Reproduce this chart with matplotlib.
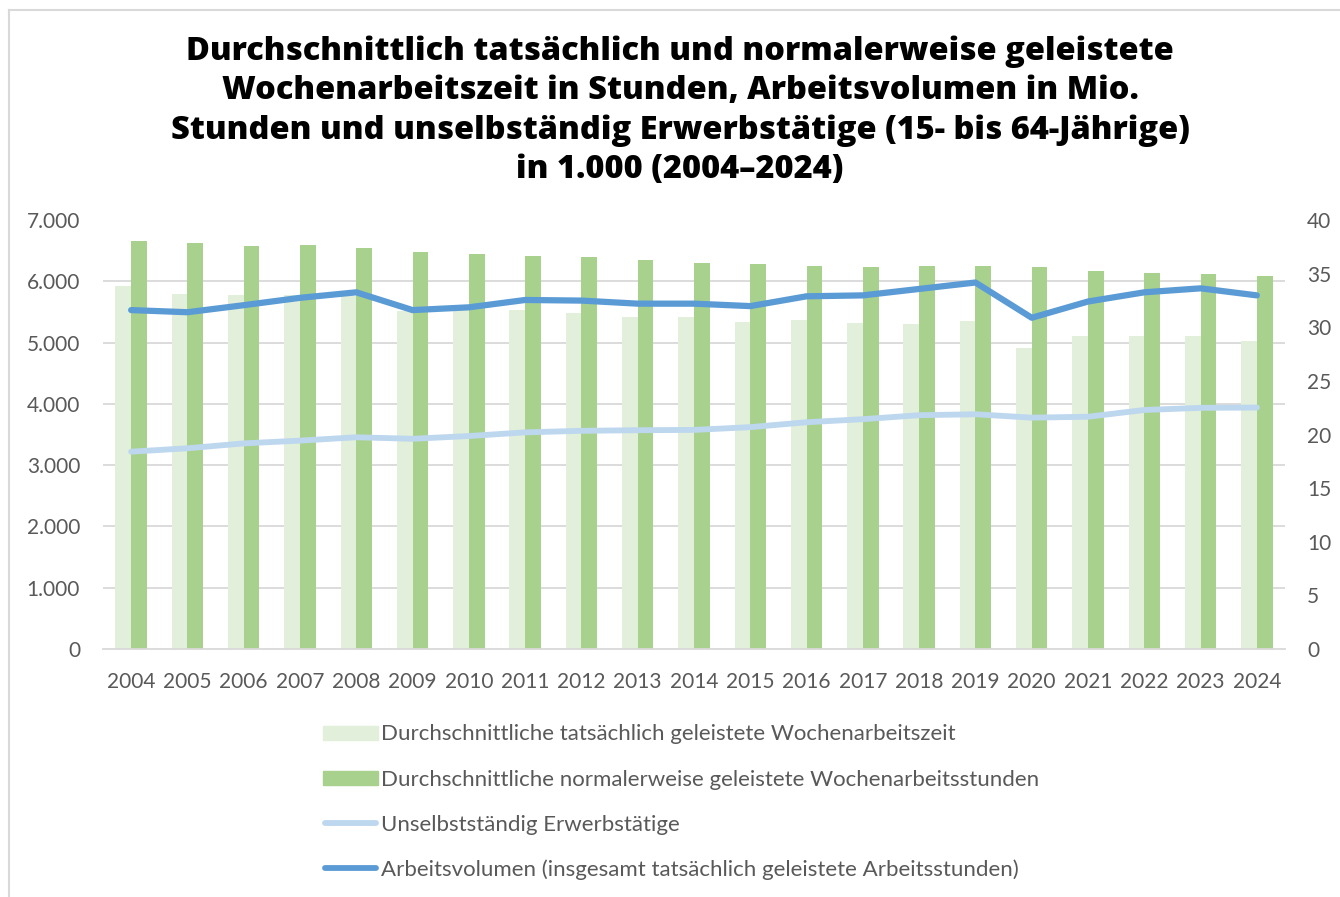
import matplotlib
matplotlib.use("Agg")
import matplotlib.pyplot as plt
import numpy as np
from matplotlib.patches import Rectangle
from matplotlib.lines import Line2D
from matplotlib.ticker import FuncFormatter

years = [str(y) for y in range(2004, 2025)]
tatsaechlich = [33.85, 33.1, 33.0, 33.0, 32.9, 31.5, 31.6, 31.6, 31.3, 31.0, 30.95,
                30.45, 30.7, 30.35, 30.3, 30.6, 28.1, 29.2, 29.15, 29.2, 28.7]
normalerweise = [38.0, 37.9, 37.6, 37.65, 37.35, 37.0, 36.85, 36.65, 36.55, 36.3, 36.0,
                 35.9, 35.75, 35.6, 35.7, 35.7, 35.6, 35.2, 35.1, 34.95, 34.8]
erwerbstaetige = [3220, 3275, 3355, 3400, 3455, 3430, 3475, 3535, 3560, 3570, 3575,
                  3620, 3700, 3750, 3815, 3830, 3775, 3790, 3900, 3935, 3940]
arbeitsvolumen = [5530, 5495, 5610, 5730, 5820, 5530, 5575, 5695, 5685, 5635, 5635,
                  5595, 5755, 5770, 5875, 5980, 5405, 5670, 5820, 5885, 5770]

labels = ["Durchschnittliche tatsächlich geleistete Wochenarbeitszeit",
          "Durchschnittliche normalerweise geleistete Wochenarbeitsstunden",
          "Unselbstständig Erwerbstätige",
          "Arbeitsvolumen (insgesamt tatsächlich geleistete Arbeitsstunden)"]
title = ("Durchschnittlich tatsächlich und normalerweise geleistete\n"
         "Wochenarbeitszeit in Stunden, Arbeitsvolumen in Mio.\n"
         "Stunden und unselbständig Erwerbstätige (15- bis 64-Jährige)\n"
         "in 1.000 (2004–2024)")

C_LIGHT = "#E2EFDA"
C_DARK = "#A9D18E"
C_LBLUE = "#BDD7EE"
C_BLUE = "#5B9BD5"
C_TXT = "#595959"
C_GRID = "#D9D9D9"

W, H = 1340, 897
fig = plt.figure(figsize=(W / 100, H / 100), dpi=100)
plt.rcParams['font.family'] = ['Lato', 'DejaVu Sans']

def fx(px):
    return px / W

def fy(py):
    return 1 - py / H

# frame
fig.lines.append(Line2D([fx(9), fx(9)], [fy(10), 0], transform=fig.transFigure, color="#D9D9D9", lw=1.5))
fig.lines.append(Line2D([fx(9), 1], [fy(10), fy(10)], transform=fig.transFigure, color="#D9D9D9", lw=1.5))

left, right, top, bottom = 103, 1285, 220, 649
ax = fig.add_axes([fx(left), fy(bottom), (right - left) / W, (bottom - top) / H])
x = np.arange(len(years))
bw = 0.28
ax.bar(x - bw / 2, tatsaechlich, width=bw, color=C_LIGHT, zorder=2)
ax.bar(x + bw / 2, normalerweise, width=bw, color=C_DARK, zorder=2)
ax.set_ylim(0, 40)
ax.set_xlim(-0.5, len(years) - 0.5)
ax.set_yticks(np.arange(0, 41, 5))
ax.set_yticks(np.linspace(0, 40, 8), minor=True)
ax.grid(which="minor", axis="y", color=C_GRID, lw=1.3, zorder=0)
ax.set_axisbelow(True)
ax.set_xticks(x)
ax.set_xticklabels(years)
for s in ["top", "left", "right"]:
    ax.spines[s].set_visible(False)
ax.spines["bottom"].set_color(C_GRID)
ax.spines["bottom"].set_linewidth(1.3)

ax2 = ax.twinx()
ax2.plot(x, erwerbstaetige, color=C_LBLUE, lw=4.2, solid_capstyle="round", solid_joinstyle="round")
ax2.plot(x, arbeitsvolumen, color=C_BLUE, lw=4.5, solid_capstyle="round", solid_joinstyle="round")
ax2.set_ylim(0, 7000)
ax2.set_yticks(np.arange(0, 7001, 1000))
ax2.yaxis.tick_left()
ax2.yaxis.set_major_formatter(FuncFormatter(lambda v, p: f"{int(v):,}".replace(",", ".")))
ax2.tick_params(axis="y", length=0, pad=16.5, labelsize=15, labelcolor=C_TXT)
for s in ax2.spines.values():
    s.set_visible(False)

# bars' axis on the right (after twinx, which resets it)
ax.yaxis.tick_right()
ax.tick_params(axis="y", which="both", length=0, pad=16, labelsize=15, labelcolor=C_TXT)
ax.tick_params(axis="x", length=0, pad=16.5, labelsize=15, labelcolor=C_TXT)

fig.text(0.5075, fy(110.5), title, ha="center", va="center", fontsize=23.4,
         fontweight=800, family=["Open Sans", "DejaVu Sans"], linespacing=1.3, color="black")

# legend
ly = [733, 778, 823, 868]
hx0, hx1 = 323, 378
for i, c in enumerate([C_LIGHT, C_DARK]):
    fig.patches.append(Rectangle((fx(hx0), fy(ly[i] + 7)), (hx1 - hx0) / W, 14 / H,
                                 transform=fig.transFigure, color=c))
for i, c in [(2, C_LBLUE), (3, C_BLUE)]:
    fig.lines.append(Line2D([fx(hx0 + 2), fx(hx1 - 2)], [fy(ly[i]), fy(ly[i])], transform=fig.transFigure,
                            color=c, lw=4.2, solid_capstyle="round"))
for i, t in enumerate(labels):
    fig.text(fx(381), fy(ly[i] + 1.5), t, ha="left", va="center", fontsize=16, color=C_TXT)

fig.savefig("out.png", dpi=100)
